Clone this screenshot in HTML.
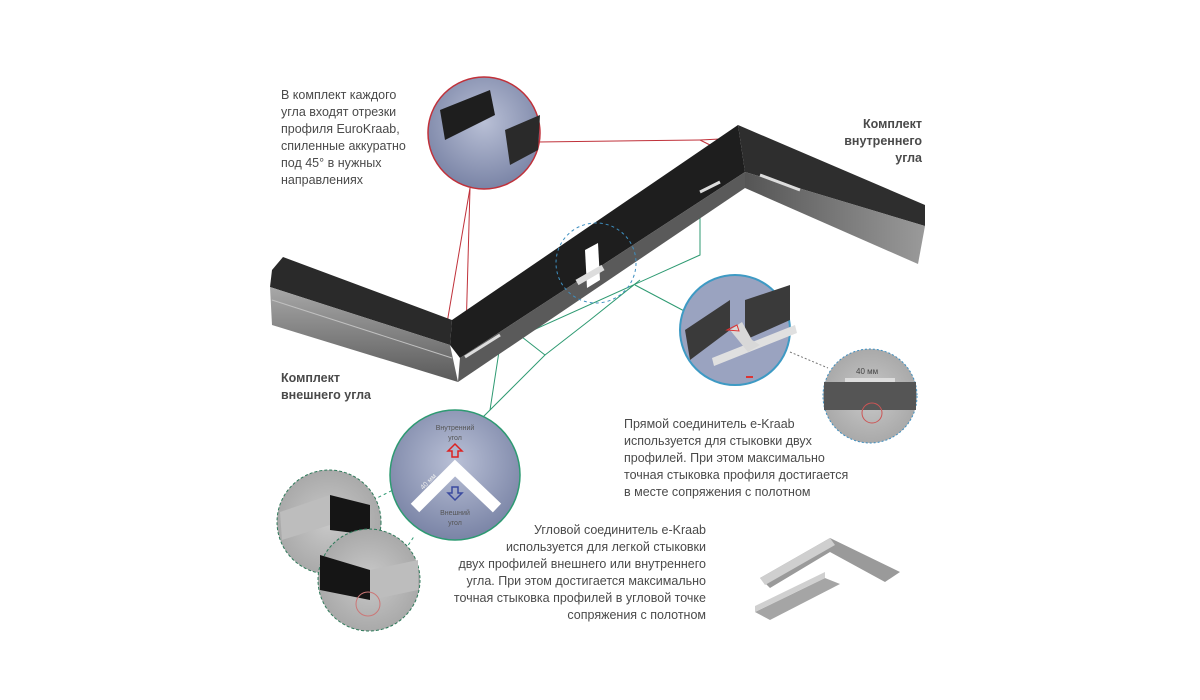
<!DOCTYPE html>
<html><head><meta charset="utf-8"><style>
body{margin:0;background:#fff;}
svg{display:block;}
text{font-family:"Liberation Sans","DejaVu Sans",sans-serif;fill:#4a4a4a;}
</style></head><body>
<svg width="1200" height="700" viewBox="0 0 1200 700" xmlns="http://www.w3.org/2000/svg">
<defs>
<linearGradient id="face" x1="0" y1="0" x2="0" y2="1"><stop offset="0" stop-color="#a8a8a8"/><stop offset="1" stop-color="#5a5a5a"/></linearGradient>
<linearGradient id="face2" x1="0" y1="0" x2="1" y2="0"><stop offset="0" stop-color="#555"/><stop offset="1" stop-color="#9a9a9a"/></linearGradient>
<radialGradient id="blue" cx="0.5" cy="0.4" r="0.6"><stop offset="0" stop-color="#b9c0d6"/><stop offset="1" stop-color="#7a84a6"/></radialGradient>
<radialGradient id="gray" cx="0.5" cy="0.5" r="0.6"><stop offset="0" stop-color="#c9c9c9"/><stop offset="1" stop-color="#a3a3a3"/></radialGradient>
</defs>

<g stroke="#c0313a" stroke-width="1" fill="none">
<line x1="470" y1="188" x2="445" y2="335"/><line x1="470" y1="188" x2="466" y2="333"/>
<line x1="538" y1="142" x2="700" y2="140"/><line x1="700" y1="140" x2="740" y2="138"/><line x1="700" y1="140" x2="730" y2="155"/>
</g>
<g stroke="#2e9a72" stroke-width="1" fill="none">
<line x1="635" y1="285" x2="688" y2="313"/>
<polyline points="700,215 700,255 500,345 490,410"/>
<polyline points="513,330 545,355 590,320 640,280"/>
<line x1="420" y1="480" x2="545" y2="355"/>
</g>

<polygon points="283,257 452,320 450,345 270,287 272,270" fill="#2a2a2a"/>
<polygon points="270,287 450,345 458,382 272,325" fill="url(#face)"/>
<line x1="272" y1="300" x2="452" y2="358" stroke="#c0c0c0"/>
<polygon points="452,320 738,125 745,172 460,358 450,345" fill="#1e1e1e"/>
<polygon points="460,358 745,172 745,188 458,382" fill="#5a5a5a"/>
<polygon points="738,125 925,205 925,226 745,172" fill="#2e2e2e"/>
<polygon points="745,172 925,226 918,264 745,188" fill="url(#face2)"/>
<line x1="760" y1="175" x2="800" y2="190" stroke="#ddd" stroke-width="3"/>
<line x1="700" y1="192" x2="720" y2="182" stroke="#ddd" stroke-width="3"/>
<line x1="465" y1="357" x2="500" y2="335" stroke="#ddd" stroke-width="3"/>
<polygon points="585,250 598,243 600,280 587,288" fill="#fff"/>
<rect x="575" y="272" width="30" height="6" fill="#ddd" transform="rotate(-30 590 275)"/>

<circle cx="596" cy="263" r="40" fill="none" stroke="#3e8fc0" stroke-dasharray="3,3"/>

<circle cx="484" cy="133" r="56" fill="url(#blue)" stroke="#c0313a" stroke-width="1.5"/>
<polygon points="440,110 490,90 495,115 445,140" fill="#1e1e1e"/>
<polygon points="505,130 540,115 538,150 510,165" fill="#2a2a2a"/>

<circle cx="735" cy="330" r="55" fill="#9aa3c0" stroke="#3e9ac4" stroke-width="2"/>
<polygon points="685,330 730,300 730,330 690,360" fill="#3a3a3a"/>
<polygon points="745,300 790,285 790,320 745,340" fill="#3a3a3a"/>
<polygon points="712,358 795,325 797,333 714,366" fill="#e0e0e0"/>
<polygon points="730,330 742,322 752,340 760,345 748,352" fill="#d8d8d8"/>
<path d="M727 330 l10 -5 l2 6 z" fill="none" stroke="#d33"/>
<rect x="746" y="376" width="7" height="2" fill="#d33"/>

<line x1="790" y1="352" x2="828" y2="368" stroke="#777" stroke-dasharray="2,2"/>
<circle cx="870" cy="396" r="47" fill="url(#gray)" stroke="#3e8fc0" stroke-dasharray="2,2"/>
<rect x="824" y="382" width="92" height="28" fill="#555"/>
<rect x="845" y="378" width="50" height="4" fill="#ddd"/>
<text x="856" y="374" font-size="8" style="fill:#444">40 мм</text>
<circle cx="872" cy="413" r="10" fill="none" stroke="#c55"/>

<circle cx="455" cy="475" r="65" fill="url(#blue)" stroke="#2e9a72" stroke-width="1.5"/>
<polyline points="415,508 455,468 497,508" fill="none" stroke="#fff" stroke-width="12"/>
<text x="455" y="430" font-size="7" text-anchor="middle" style="fill:#555">Внутренний</text>
<text x="455" y="440" font-size="7" text-anchor="middle" style="fill:#555">угол</text>
<path d="M455 444 l7 7 h-4 v6 h-6 v-6 h-4 z" fill="none" stroke="#d22" stroke-width="1.5"/>
<path d="M455 500 l7 -7 h-4 v-6 h-6 v6 h-4 z" fill="none" stroke="#3a4aa0" stroke-width="1.5"/>
<text x="455" y="515" font-size="7" text-anchor="middle" style="fill:#555">Внешний</text>
<text x="455" y="525" font-size="7" text-anchor="middle" style="fill:#555">угол</text>
<text x="423" y="490" font-size="7" transform="rotate(-45 423 490)" style="fill:#eee">40 мм</text>

<line x1="373" y1="500" x2="393" y2="490" stroke="#2e9a72" stroke-dasharray="3,3"/>
<line x1="405" y1="550" x2="415" y2="535" stroke="#2e9a72" stroke-dasharray="3,3"/>
<circle cx="329" cy="522" r="52" fill="url(#gray)" stroke="#2e7a5a" stroke-dasharray="3,2"/>
<polygon points="330,495 370,505 370,535 330,530" fill="#151515"/>
<polygon points="280,512 330,495 330,525 282,540" fill="#bdbdbd"/>
<circle cx="369" cy="580" r="51" fill="url(#gray)" stroke="#2e7a5a" stroke-dasharray="3,2"/>
<polygon points="320,555 370,570 370,600 320,590" fill="#151515"/>
<polygon points="370,570 418,560 418,590 370,600" fill="#bdbdbd"/>
<circle cx="368" cy="604" r="12" fill="none" stroke="#c77"/>

<polygon points="760,578 830,538 900,572 885,582 830,552 770,588" fill="#9a9a9a"/>
<polygon points="760,578 830,538 835,545 765,585" fill="#cfcfcf"/>
<polygon points="755,612 825,578 840,584 770,620" fill="#a5a5a5"/>
<polygon points="755,612 825,578 825,572 755,606" fill="#d0d0d0"/>

<g font-size="12.5">
<text x="281" y="99">В комплект каждого</text>
<text x="281" y="116">угла входят отрезки</text>
<text x="281" y="133">профиля EuroKraab,</text>
<text x="281" y="150">спиленные аккуратно</text>
<text x="281" y="167">под 45° в нужных</text>
<text x="281" y="184">направлениях</text>
</g>
<g font-size="12.5" font-weight="bold" text-anchor="end">
<text x="922" y="128">Комплект</text>
<text x="922" y="145">внутреннего</text>
<text x="922" y="162">угла</text>
</g>
<g font-size="12.5" font-weight="bold">
<text x="281" y="382">Комплект</text>
<text x="281" y="399">внешнего угла</text>
</g>
<g font-size="12.5">
<text x="624" y="428">Прямой соединитель e-Kraab</text>
<text x="624" y="445">используется для стыковки двух</text>
<text x="624" y="462">профилей. При этом максимально</text>
<text x="624" y="479">точная стыковка профиля достигается</text>
<text x="624" y="496">в месте сопряжения с полотном</text>
</g>
<g font-size="12.5" text-anchor="end">
<text x="706" y="534">Угловой соединитель e-Kraab</text>
<text x="706" y="551">используется для легкой стыковки</text>
<text x="706" y="568">двух профилей внешнего или внутреннего</text>
<text x="706" y="585">угла. При этом достигается максимально</text>
<text x="706" y="602">точная стыковка профилей в угловой точке</text>
<text x="706" y="619">сопряжения с полотном</text>
</g>
</svg>
</body></html>
